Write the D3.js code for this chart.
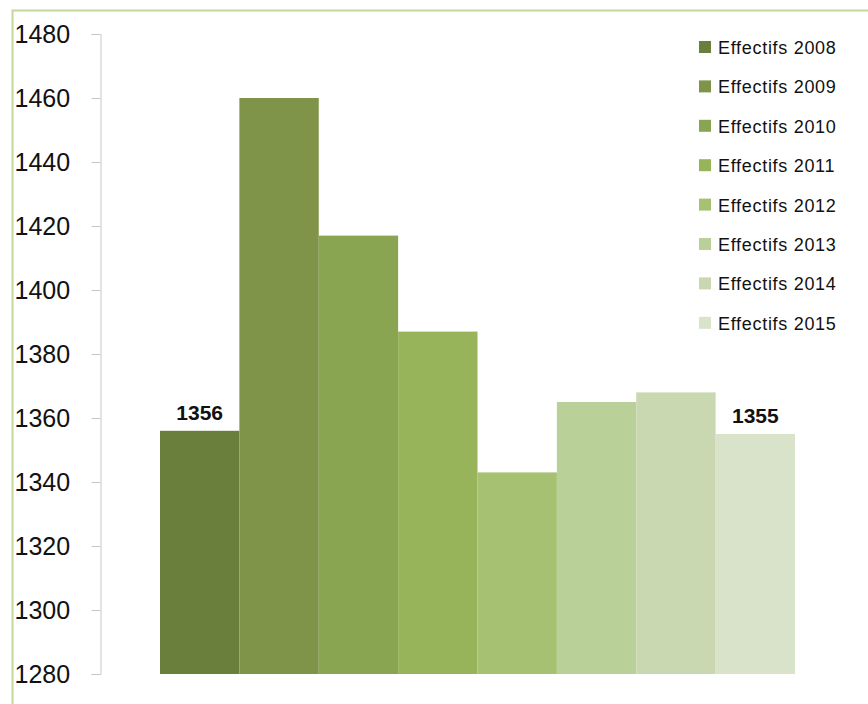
<!DOCTYPE html>
<html>
<head>
<meta charset="utf-8">
<script src="https://cdn.jsdelivr.net/npm/d3@7/dist/d3.min.js"></script>
<style>
  body { margin: 0; background: #fff; }
  svg { display: block; }
  text { font-family: "Liberation Sans", Arial, sans-serif; }
</style>
</head>
<body>
<svg width="868" height="704"></svg>
<script>
// effectifs par annee
var years = ["2008", "2009", "2010", "2011", "2012", "2013", "2014", "2015"];
var values = [1356, 1460, 1417, 1387, 1343, 1365, 1368, 1355];
var colors = ["#6b7f3c", "#7f9448", "#8aa552", "#97b45a", "#a7c172", "#bad099", "#c9d8b0", "#d9e3ca"];
var yTicks = [1280, 1300, 1320, 1340, 1360, 1380, 1400, 1420, 1440, 1460, 1480];
var labelled = ["2008", "2015"];

var svg = d3.select("svg");

// outer frame (only top + left visible)
svg.append("rect")
    .attr("x", 12.5).attr("y", 10.5)
    .attr("width", 900).attr("height", 800)
    .attr("fill", "none")
    .attr("stroke", "#c4d79b")
    .attr("stroke-width", 2);

var y = d3.scaleLinear().domain([1280, 1480]).range([674, 34]);
var x = d3.scaleBand().domain(years).range([160, 795]).padding(0);

// axis
var yAxis = d3.axisLeft(y).tickValues(yTicks).tickSize(9).tickPadding(20).tickFormat(d3.format("d"));
var gy = svg.append("g").attr("transform", "translate(100.5,0)").call(yAxis);
gy.select(".domain").attr("stroke", "#c8c8c8");
gy.selectAll(".tick line").attr("stroke", "#c8c8c8");
gy.selectAll(".tick text")
    .attr("fill", "#111")
    .style("font-size", "25px")
    .attr("text-anchor", "start")
    .attr("x", -86);

// bars
svg.append("g").selectAll("rect")
    .data(years)
    .enter().append("rect")
    .attr("x", function (d) { return x(d); })
    .attr("width", x.bandwidth())
    .attr("y", function (d, i) { return y(values[i]); })
    .attr("height", function (d, i) { return y(1280) - y(values[i]); })
    .attr("fill", function (d, i) { return colors[i]; });

// value labels on first and last bar
svg.append("g").selectAll("text")
    .data(years.filter(function (d) { return labelled.indexOf(d) >= 0; }))
    .enter().append("text")
    .attr("x", function (d) { return x(d) + x.bandwidth() / 2; })
    .attr("y", function (d) { return y(values[years.indexOf(d)]) - 11; })
    .attr("text-anchor", "middle")
    .style("font-size", "21px")
    .style("font-weight", "bold")
    .attr("fill", "#111")
    .text(function (d) { return values[years.indexOf(d)]; });

// legend
var legend = svg.append("g").selectAll("g")
    .data(years)
    .enter().append("g")
    .attr("transform", function (d, i) { return "translate(699," + (41 + i * 39.4) + ")"; });

legend.append("rect")
    .attr("width", 12).attr("height", 12)
    .attr("fill", function (d, i) { return colors[i]; });

legend.append("text")
    .attr("x", 19).attr("y", 13)
    .style("font-size", "18px")
    .style("letter-spacing", "0.7px")
    .attr("fill", "#111")
    .text(function (d) { return "Effectifs " + d; });
</script>
</body>
</html>
